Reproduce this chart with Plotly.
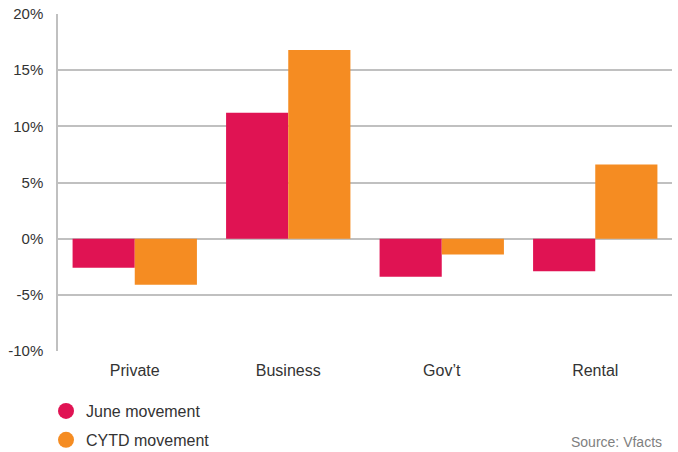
import plotly.graph_objects as go

categories = ["Private", "Business", "Gov\u2019t", "Rental"]
june = [-2.6, 11.2, -3.4, -2.9]
cytd = [-4.1, 16.8, -1.4, 6.6]
tick_vals = [-10, -5, 0, 5, 10, 15, 20]
tick_text = ["-10%", "-5%", "0%", "5%", "10%", "15%", "20%"]

RED = "#E01353"
ORANGE = "#F58C22"
FONT = "Liberation Sans, Arial, sans-serif"

fig = go.Figure()
fig.add_trace(go.Bar(x=categories, y=june, marker=dict(color=RED, line=dict(width=0)),
                     name="June movement", showlegend=False))
fig.add_trace(go.Bar(x=categories, y=cytd, marker=dict(color=ORANGE, line=dict(width=0)),
                     name="CYTD movement", showlegend=False))
fig.add_trace(go.Scatter(x=[None], y=[None], mode="markers", name="June movement", legend="legend",
                         marker=dict(color=RED, size=20, symbol="circle")))
fig.add_trace(go.Scatter(x=[None], y=[None], mode="markers", name="CYTD movement", legend="legend2",
                         marker=dict(color=ORANGE, size=20, symbol="circle")))

leg_common = dict(x=-0.0195, xanchor="left", yanchor="middle", orientation="v",
                  font=dict(family=FONT, size=16, color="#333333"), bgcolor="rgba(0,0,0,0)",
                  borderwidth=0, itemsizing="trace")

fig.update_layout(
    width=678, height=452,
    margin=dict(l=58, r=6, t=14, b=101, autoexpand=False),
    paper_bgcolor="white", plot_bgcolor="white",
    barmode="group", bargap=0.19, bargroupgap=0,
    font=dict(family=FONT, size=15, color="#333333"),
    xaxis=dict(showline=False, showgrid=False, ticks="", ticklabelstandoff=8,
               tickfont=dict(size=16, color="#333333")),
    yaxis=dict(range=[-10, 20], tickvals=tick_vals, ticktext=tick_text,
               showgrid=True, gridcolor="#C0C0C0", gridwidth=1.5,
               zeroline=True, zerolinecolor="#C0C0C0", zerolinewidth=1.5,
               showline=True, linecolor="#C0C0C0", linewidth=1.5,
               ticks="", ticklabelstandoff=10, tickfont=dict(size=15, color="#333333")),
    legend=dict(y=-0.178, **leg_common),
    legend2=dict(y=-0.264, **leg_common),
    annotations=[dict(text="Source: Vfacts", x=0.987, xref="paper", xanchor="right",
                      y=-0.270, yref="paper", yanchor="middle", showarrow=False,
                      font=dict(size=14, color="#808080"))],
)

fig.write_html("out.html")
